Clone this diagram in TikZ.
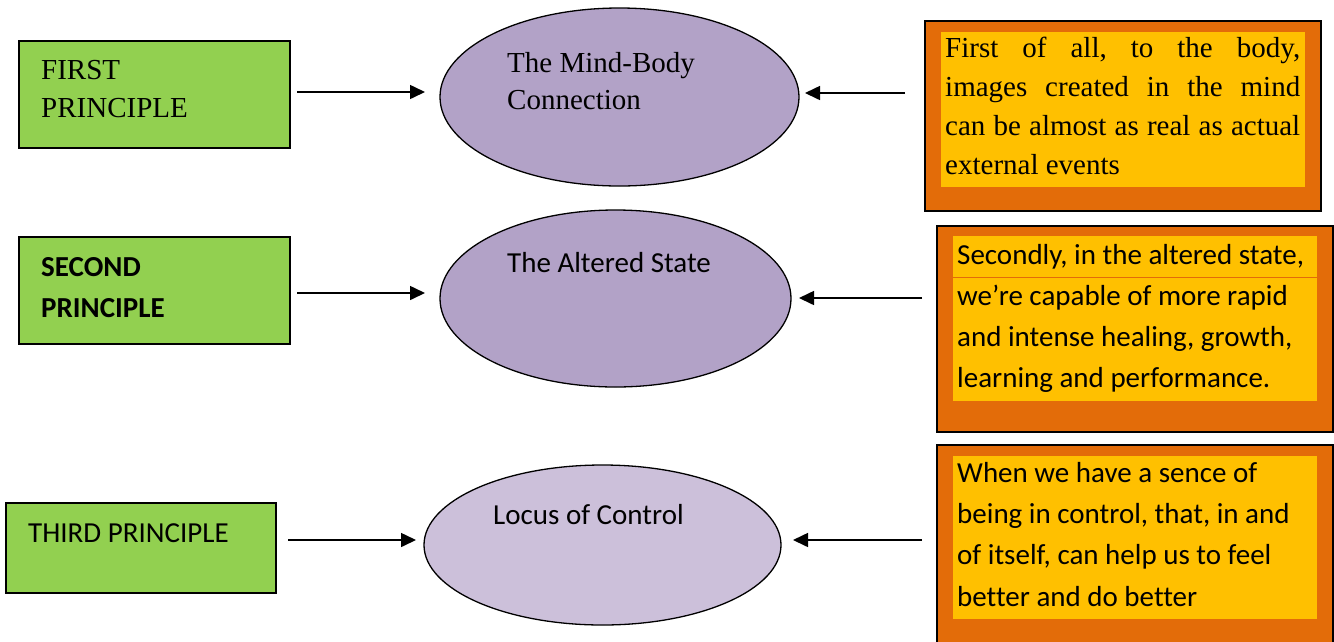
\documentclass[tikz,border=0pt]{standalone}
\usepackage{fontspec}
\setmainfont{Liberation Serif}
\newfontfamily\calibrifont[Ligatures=NoCommon]{Carlito}
\usetikzlibrary{shapes.geometric,arrows.meta}
\definecolor{boxgreen}{HTML}{92D050}
\definecolor{boxorange}{HTML}{E36C09}
\definecolor{boxyellow}{HTML}{FFC000}
\definecolor{ellpurple}{HTML}{B2A2C7}
\definecolor{elllight}{HTML}{CCC0DA}
\frenchspacing
\tikzset{
  greenbox/.style={draw=black, line width=1.5pt, fill=boxgreen, inner sep=0pt},
  outerbox/.style={draw=black, line width=1.8pt, fill=boxorange, inner sep=0pt},
  innerbox/.style={fill=boxyellow, inner sep=0pt},
  oval/.style={ellipse, draw=black, line width=1.3pt, inner sep=0pt},
  txt/.style={inner sep=0pt, text=black},
  arr/.style={line width=1.6pt, -{Triangle[length=15pt,width=14pt]}},
  timesA/.style={font=\fontsize{29}{38}\selectfont},
  timesB/.style={font=\fontsize{29}{37}\selectfont},
  timesC/.style={font=\fontsize{29}{39}\selectfont},
  caliA/.style={font=\calibrifont\fontsize{29}{41}\selectfont},
  caliB/.style={font=\calibrifont\bfseries\fontsize{29}{41}\selectfont},
  caliC/.style={font=\calibrifont\fontsize{29}{41.3}\selectfont}
}
\begin{document}
\begin{tikzpicture}[x=1pt,y=-1pt]
\clip (0,0) rectangle (1334,641);
\fill[white] (0,0) rectangle (1334,641);

% left green boxes
\node[greenbox, minimum width=271pt, minimum height=107pt] (g1) at (154.5,94.5) {};
\node[greenbox, minimum width=271pt, minimum height=107pt] (g2) at (154.5,290.5) {};
\node[greenbox, minimum width=270pt, minimum height=90pt] (g3) at (141,548) {};
\node[txt, timesA, anchor=north west, align=flush left] (g1t) at (41,52.4) {\strut FIRST\\PRINCIPLE};
\node[txt, caliB, anchor=north west, align=flush left] (g2t) at (41,247.3) {\strut SECOND\\PRINCIPLE};
\node[txt, caliA, anchor=base west] (g3t) at (28,542) {THIRD PRINCIPLE};

% ellipses
\node[oval, fill=ellpurple, minimum width=359pt, minimum height=178pt] (e1) at (619.5,97) {};
\node[oval, fill=ellpurple, minimum width=351pt, minimum height=177pt] (e2) at (615.5,298.5) {};
\node[oval, fill=elllight, minimum width=357pt, minimum height=160pt] (e3) at (602.5,545) {};
\node[txt, timesB, anchor=north west, align=flush left] (e1t) at (507,46.1) {\strut The Mind-Body\\Connection};
\node[txt, caliA, anchor=base west] (e2t) at (507,272) {The Altered State};
\node[txt, caliA, anchor=base west] (e3t) at (493,524) {Locus of Control};

% right boxes
\node[outerbox, minimum width=396pt, minimum height=190pt] (o1) at (1123,116) {};
\node[innerbox, minimum width=364pt, minimum height=155pt] (y1) at (1123,109.5) {};
\node[outerbox, minimum width=396pt, minimum height=206pt] (o2) at (1135,329) {};
\node[innerbox, minimum width=364pt, minimum height=165pt] (y2) at (1135,318.5) {};
\node[outerbox, minimum width=396pt, minimum height=205pt] (o3) at (1135,547.5) {};
\node[innerbox, minimum width=364pt, minimum height=163pt] (y3) at (1135,537.5) {};
\draw[boxorange, line width=0.8pt] (y2.west |- 0,277) -- (y2.east |- 0,277);

\node[txt, timesC, anchor=north west, text width=355pt, align=justify] (r1t) at (945,29.7)
  {\hyphenpenalty=10000\strut First of all, to the body, \linebreak images created in the mind \linebreak can be almost as real as actual \linebreak external events};
\node[txt, caliA, anchor=north west, text width=360pt, align=flush left] (r2t) at (957,235.3)
  {\strut Secondly, in the altered state,\\we’re capable of more rapid\\and intense healing, growth,\\learning and performance.};
\node[txt, caliC, anchor=north west, text width=360pt, align=flush left] (r3t) at (957,453.1)
  {\strut When we have a sence of\\being in control, that, in and\\of itself, can help us to feel\\better and do better};

% connectors
\coordinate (a1s) at (297,92);  \coordinate (a1e) at (425,92);
\coordinate (a2s) at (297,293); \coordinate (a2e) at (425,293);
\coordinate (a3s) at (288,540); \coordinate (a3e) at (416,540);
\coordinate (b1s) at (905,93);  \coordinate (b1e) at (805,93);
\coordinate (b2s) at (922,298); \coordinate (b2e) at (799,298);
\coordinate (b3s) at (922,540); \coordinate (b3e) at (793,540);
\draw[arr] (a1s) -- (a1e);
\draw[arr] (a2s) -- (a2e);
\draw[arr] (a3s) -- (a3e);
\draw[arr] (b1s) -- (b1e);
\draw[arr] (b2s) -- (b2e);
\draw[arr] (b3s) -- (b3e);
\end{tikzpicture}
\end{document}
